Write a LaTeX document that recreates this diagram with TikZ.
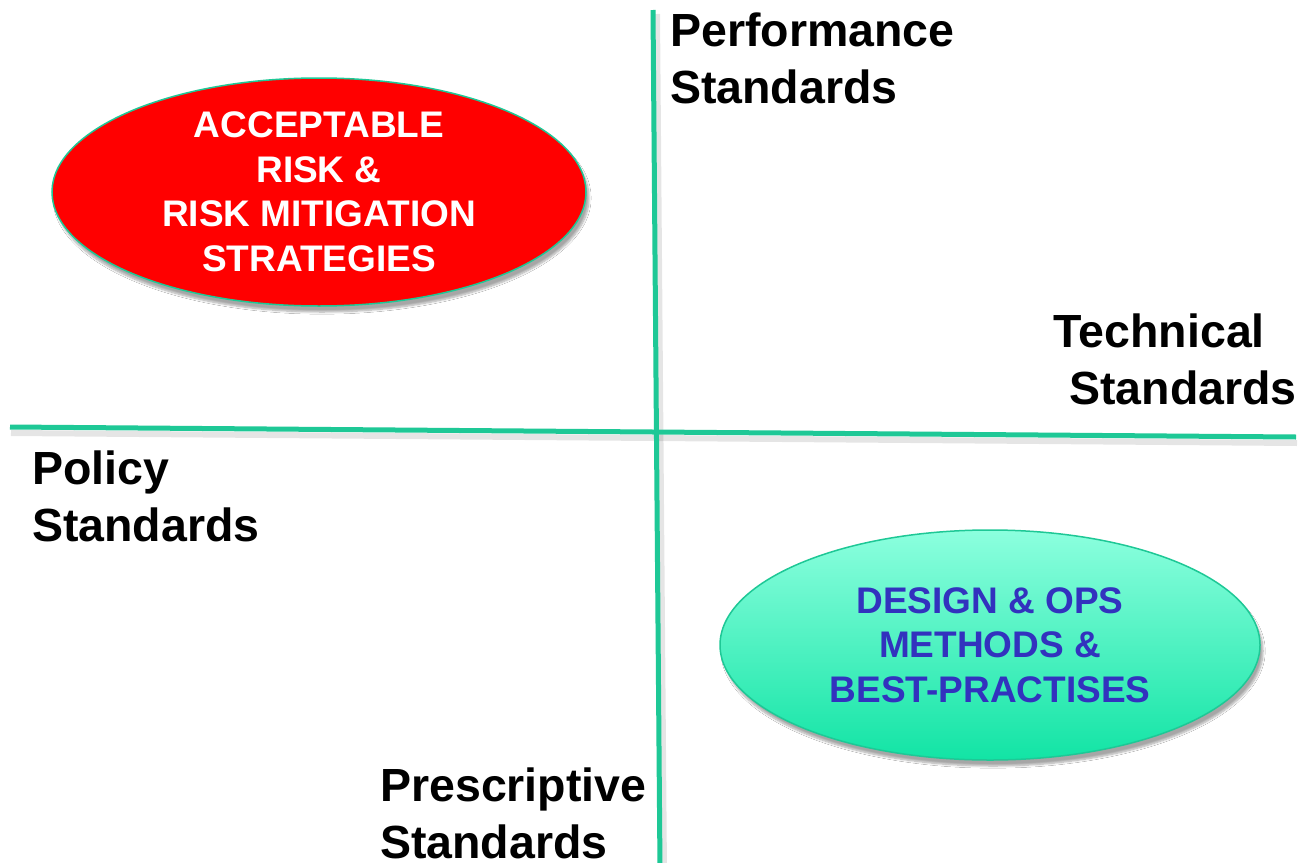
\documentclass[tikz,border=0pt]{standalone}
\usepackage{fontspec}
\setmainfont{Liberation Sans}
\usetikzlibrary{shapes.geometric,shadows.blur}
\definecolor{axisgreen}{RGB}{30,200,150}
\definecolor{riskred}{RGB}{255,0,0}
\definecolor{mintTop}{RGB}{140,255,222}
\definecolor{mintBot}{RGB}{18,228,165}
\definecolor{opsblue}{RGB}{50,50,190}
\tikzset{
  axis/.style={line width=5pt, draw=axisgreen},
  axisshade/.style={line width=6pt, draw=black, opacity=0.1},
  label/.style={font=\bfseries\fontsize{46.5}{57}\selectfont, inner sep=0pt, anchor=base west, align=left},
  bubble/.style={ellipse, draw=axisgreen, line width=1.5pt, inner sep=0pt,
    font=\bfseries\fontsize{37}{44.5}\selectfont, align=center,
    blur shadow={shadow xshift=3pt, shadow yshift=-6pt, shadow opacity=35, shadow blur steps=8}},
}
\begin{document}
\begin{tikzpicture}[x=1pt, y=-1pt]
  \useasboundingbox (0,0) rectangle (1301,862);
  \fill[white] (0,0) rectangle (1301,862);

  % axis end points
  \coordinate (vtop) at (653,10);
  \coordinate (vbot) at (660,870);
  \coordinate (hleft) at (10,427);
  \coordinate (hright) at (1296,437);

  % soft shadows under the axes
  \draw[axisshade] ([shift={(4,4)}]vtop) -- ([shift={(4,4)}]vbot);
  \draw[axisshade] ([shift={(1,6)}]hleft) -- ([shift={(1,6)}]hright);
  \draw[axis] (hleft) -- (hright);
  \draw[axis] (vtop) -- (vbot);

  % quadrant bubbles
  \node[bubble, fill=riskred, text=white, minimum width=534pt, minimum height=228pt]
    (risk) at (319,192) {ACCEPTABLE\\RISK \&\\RISK MITIGATION\\STRATEGIES};
  \node[bubble, top color=mintTop, bottom color=mintBot, text=opsblue,
    minimum width=540pt, minimum height=230pt]
    (ops) at (990,645) {DESIGN \& OPS\\METHODS \&\\BEST-PRACTISES};

  % axis labels (anchored at the baseline of their last line)
  \node[label] (perf) at (670,103) {Performance\\Standards};
  \node[label, anchor=base east, align=right] (tech) at (1297,404) {Technical\hspace*{32pt}\\Standards};
  \node[label] (policy) at (32,541) {Policy\\Standards};
  \node[label] (presc) at (380,858) {Prescriptive\\Standards};
\end{tikzpicture}
\end{document}
